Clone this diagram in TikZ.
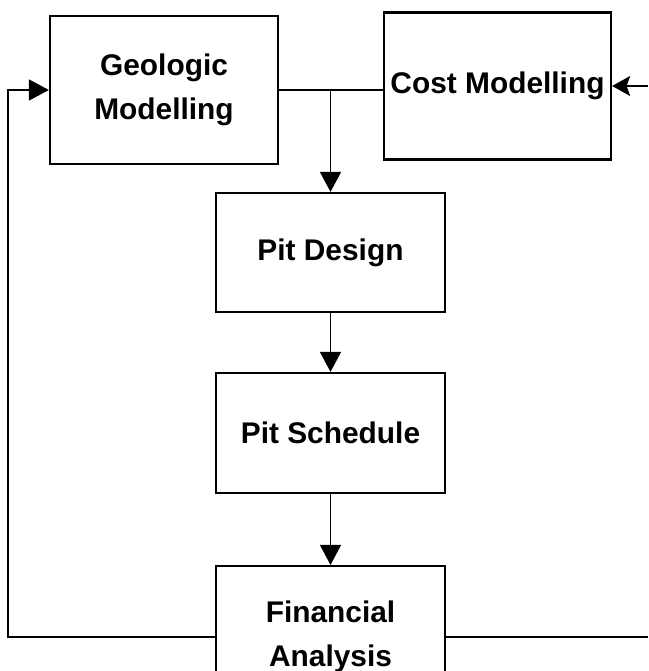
\documentclass[tikz,border=0pt]{standalone}
\usepackage{fontspec}
\setmainfont{Liberation Sans}
\usepackage{tikz}
\usetikzlibrary{arrows.meta}

\tikzset{
  stage/.style={draw, line width=1.3pt, align=center, inner sep=0pt,
    font=\bfseries\fontsize{17}{25}\selectfont},
  link/.style={line width=0.9pt},
  flow/.style={link, -{Triangle[length=0.4cm, width=0.42cm]}},
  back/.style={link, -{Stealth[length=0.36cm, width=0.4cm, inset=0.07cm]}}
}

\begin{document}
\begin{tikzpicture}[x=0.02cm, y=-0.02cm]
    \useasboundingbox (0, 0) rectangle (648, 671);
    \node[stage, minimum width=4.56cm, minimum height=2.96cm] (geo) at (164, 90) {Geologic\\Modelling};
    \node[stage, minimum width=4.54cm, minimum height=2.94cm] (cost) at (497.5, 86) {Cost Modelling};
    \node[stage, minimum width=4.58cm, minimum height=2.38cm] (pd) at (330.5, 252.5) {Pit Design};
    \node[stage, minimum width=4.58cm, minimum height=2.40cm] (ps) at (330.5, 433) {Pit Schedule};
    \node[stage, minimum width=4.58cm, minimum height=2.84cm] (fin) at (330.5, 637) {Financial\\Analysis};
    \coordinate (lft) at (8, 0);
    \coordinate (rgt) at (648, 0);
    \draw[link] (geo.east) -- (geo.east -| cost.west);
    \draw[flow] (geo.east -| pd.north) -- (pd.north);
    \draw[flow] (pd) -- (ps);
    \draw[flow] (ps) -- (fin);
    \draw[back] (rgt |- cost.east) -- (cost.east);
    \draw[link] (fin.east) -- (fin.east -| rgt);
    \draw[flow] (fin.west) -| (lft |- geo.west) -- (geo.west);
  \end{tikzpicture}
\end{document}
